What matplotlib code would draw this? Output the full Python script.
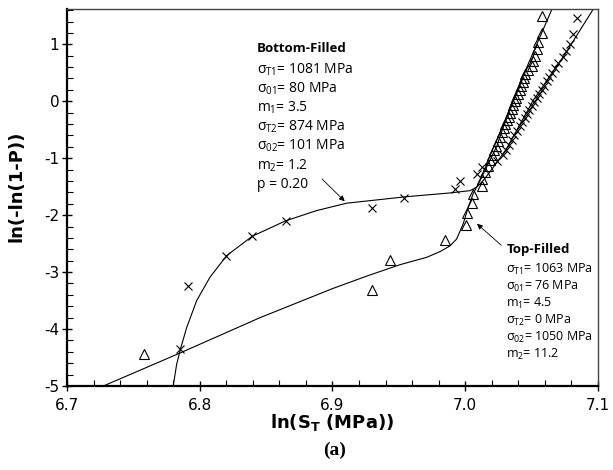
import matplotlib
matplotlib.use("Agg")
import matplotlib.pyplot as plt
from matplotlib.ticker import MultipleLocator, FormatStrFormatter

# bottom-filled specimens (x markers)
bf_x = [6.7852, 6.7909, 6.8195, 6.8396, 6.8647, 6.9300, 6.9539, 6.9923, 6.9960, 7.0086,
        7.0124, 7.0240, 7.0283, 7.0307, 7.0329, 7.0351, 7.0371, 7.0391, 7.0410, 7.0429,
        7.0447, 7.0465, 7.0482, 7.0500, 7.0517, 7.0538, 7.0558, 7.0575, 7.0593, 7.0613,
        7.0631, 7.0651, 7.0676, 7.0701, 7.0739, 7.0759, 7.0789, 7.0814, 7.0839]
bf_y = [-4.35, -3.24, -2.71, -2.36, -2.10, -1.88, -1.70, -1.54, -1.40, -1.28,
        -1.16, -1.05, -0.95, -0.86, -0.77, -0.68, -0.60, -0.52, -0.44, -0.37,
        -0.29, -0.22, -0.15, -0.08, -0.01, 0.06, 0.13, 0.20, 0.27, 0.35,
        0.42, 0.50, 0.58, 0.67, 0.77, 0.88, 1.01, 1.18, 1.47]

# top-filled specimens (triangles)
tf_x = [6.7582, 6.9300, 6.9433, 6.9848, 7.0006, 7.0011, 7.0049, 7.0056, 7.0124, 7.0129,
        7.0150, 7.0169, 7.0187, 7.0204, 7.0220, 7.0235, 7.0249, 7.0263, 7.0276, 7.0289,
        7.0302, 7.0314, 7.0327, 7.0338, 7.0350, 7.0362, 7.0374, 7.0385, 7.0397, 7.0409,
        7.0421, 7.0433, 7.0446, 7.0450, 7.0475, 7.0500, 7.0513, 7.0525, 7.0538, 7.0550,
        7.0576, 7.0576]
tf_y = [-4.43, -3.31, -2.79, -2.44, -2.18, -1.96, -1.78, -1.63, -1.49, -1.36,
        -1.25, -1.14, -1.04, -0.95, -0.86, -0.78, -0.70, -0.62, -0.54, -0.47,
        -0.40, -0.33, -0.27, -0.20, -0.13, -0.07, 0.00, 0.06, 0.13, 0.19,
        0.26, 0.33, 0.40, 0.47, 0.54, 0.62, 0.71, 0.80, 0.91, 1.04,
        1.20, 1.49]

# fitted bimodal Weibull curves
bf_fit_x = [6.7800, 6.7826, 6.7856, 6.7902, 6.7977, 6.8077, 6.8203, 6.8396, 6.8647, 6.8880,
            6.9107, 6.9383, 6.9539, 6.9885, 7.0036, 7.0086, 7.0136, 7.0186, 7.0249, 7.0312,
            7.0513, 7.0739, 7.0965]
bf_fit_y = [-5.00, -4.62, -4.34, -3.97, -3.50, -3.09, -2.71, -2.37, -2.10, -1.92,
            -1.79, -1.72, -1.68, -1.61, -1.57, -1.51, -1.39, -1.24, -1.04, -0.83,
            0.02, 0.78, 1.62]
tf_fit_x = [6.7274, 6.7852, 6.8454, 6.9000, 6.9258, 6.9508, 6.9710, 6.9810, 6.9885, 6.9935,
            6.9985, 7.0023, 7.0060, 7.0110, 7.0160, 7.0236, 7.0353, 7.0520, 7.0654]
tf_fit_y = [-5.00, -4.42, -3.80, -3.29, -3.07, -2.87, -2.74, -2.64, -2.54, -2.42,
            -2.15, -1.86, -1.62, -1.40, -1.16, -0.80, 0.00, 0.90, 1.62]

bf_title = "Bottom-Filled"
bf_params = [r"$\sigma_{T1}$= 1081 MPa", r"$\sigma_{01}$= 80 MPa", r"$m_1$= 3.5",
             r"$\sigma_{T2}$= 874 MPa", r"$\sigma_{02}$= 101 MPa", r"$m_2$= 1.2", "p = 0.20"]
tf_title = "Top-Filled"
tf_params = [r"$\sigma_{T1}$= 1063 MPa", r"$\sigma_{01}$= 76 MPa", r"$m_1$= 4.5",
             r"$\sigma_{T2}$= 0 MPa", r"$\sigma_{02}$= 1050 MPa", r"$m_2$= 11.2"]

plt.rcParams["axes.unicode_minus"] = False
plt.rcParams["mathtext.fontset"] = "custom"
plt.rcParams["mathtext.rm"] = "Open Sans"
plt.rcParams["mathtext.it"] = "Open Sans"
plt.rcParams["mathtext.bf"] = "DejaVu Sans:bold"

txt_font = "Open Sans"

fig = plt.figure(figsize=(6.13, 4.70), dpi=100)
ax = fig.add_axes([0.1093, 0.1787, 0.8662, 0.8022])

ax.plot(bf_fit_x, bf_fit_y, color="black", lw=0.8)
ax.plot(tf_fit_x, tf_fit_y, color="black", lw=0.8)
ax.plot(bf_x, bf_y, ls="none", marker="x", ms=6, mew=0.8, color="black")
ax.plot(tf_x, tf_y, ls="none", marker="^", ms=7.5, mew=0.8, mfc="none", mec="black")

ax.set_xlim(6.7, 7.1)
ax.set_ylim(-5, 1.62)
ax.xaxis.set_major_locator(MultipleLocator(0.1))
ax.xaxis.set_minor_locator(MultipleLocator(0.02))
ax.yaxis.set_major_locator(MultipleLocator(1))
ax.yaxis.set_minor_locator(MultipleLocator(0.2))
ax.xaxis.set_major_formatter(FormatStrFormatter("%.1f"))
ax.yaxis.set_major_formatter(FormatStrFormatter("%d"))
ax.tick_params(which="major", direction="inout", length=7, width=1, labelsize=11, pad=2)
ax.tick_params(which="minor", direction="in", length=4, width=0.8)
ax.tick_params(axis="x", which="major", pad=5)

for side in ["left", "bottom"]:
    ax.spines[side].set_linewidth(1.6)
    ax.spines[side].set_color("black")
for side in ["top", "right"]:
    ax.spines[side].set_linewidth(1.0)
    ax.spines[side].set_color("#444444")

ax.set_ylabel("ln(-ln(1-P))", fontsize=13, fontweight="bold", family="DejaVu Sans")
ax.set_xlabel(r"ln(S$_\mathbf{T}$ (MPa))", fontsize=13, fontweight="bold", family="DejaVu Sans")
ax.yaxis.set_label_coords(-0.078, 0.53)
ax.xaxis.set_label_coords(0.5, -0.068)

# parameter blocks
ax.text(6.843, 0.93, bf_title, fontsize=9.5, fontweight="bold", family=txt_font, va="center")
for k, s in enumerate(bf_params):
    ax.text(6.843, 0.55 - k * 0.335, s, fontsize=10, family=txt_font, va="center")

ax.text(7.031, -2.61, tf_title, fontsize=9.5, fontweight="bold", family=txt_font, va="center")
for k, s in enumerate(tf_params):
    ax.text(7.031, -2.95 - k * 0.30, s, fontsize=9, family=txt_font, va="center")

ax.annotate("", xy=(6.9107, -1.79), xytext=(6.8906, -1.33),
            arrowprops=dict(arrowstyle="-|>", color="black", lw=0.6, mutation_scale=8))
ax.annotate("", xy=(7.0073, -2.12), xytext=(7.0287, -2.56),
            arrowprops=dict(arrowstyle="-|>", color="black", lw=0.6, mutation_scale=8))

fig.text(0.545, 0.042, "(a)", fontsize=14, fontweight="bold", family="Liberation Serif",
         ha="center", va="center")

fig.savefig("out.png", dpi=100)
